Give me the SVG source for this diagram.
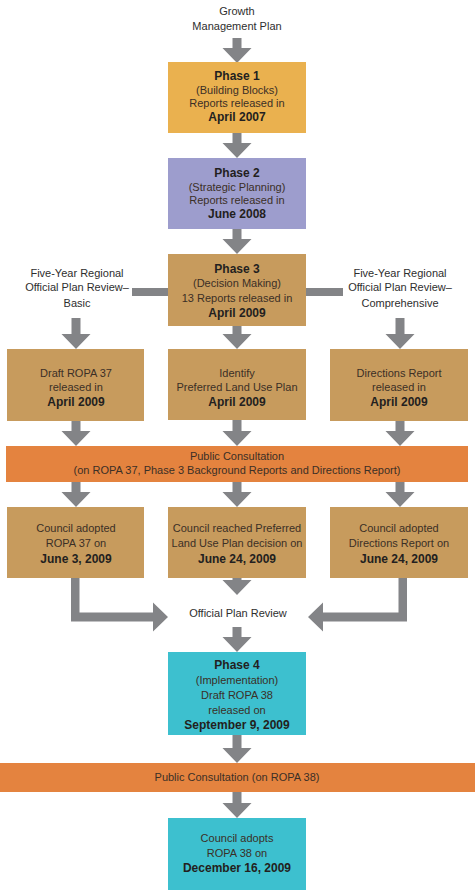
<svg xmlns="http://www.w3.org/2000/svg" width="475" height="890" viewBox="0 0 475 890">
<style>
text{font-family:"Liberation Sans",Arial,sans-serif;font-size:11px;fill:#3b2f26;text-anchor:middle}
.b{font-weight:bold;font-size:12px;fill:#231f20}
.p1{fill:#EAB14F}
.p2{fill:#9D9DCD}
.tan{fill:#C79B5D}
.org{fill:#E4833F}
.teal{fill:#3DC0CF}
.arr{fill:#838487}
.lbl{fill:#2e2e2e}
</style>
<rect width="475" height="890" fill="#ffffff"/>
<g id="connectors">
<path class="arr" d="M232.5 38H241.5V48H251.5L237 63L222.5 48H232.5Z"/>
<path class="arr" d="M232.5 133H241.5V143H251.5L237 158L222.5 143H232.5Z"/>
<path class="arr" d="M232.5 229H241.5V239H251.5L237 254L222.5 239H232.5Z"/>
<rect class="arr" x="132" y="288" width="36" height="8"/>
<rect class="arr" x="306" y="288" width="37" height="8"/>
<path class="arr" d="M71.5 318H80.5V334H90.5L76 349L61.5 334H71.5Z"/>
<path class="arr" d="M232.5 326H241.5V334H251.5L237 349L222.5 334H232.5Z"/>
<path class="arr" d="M395.5 318H404.5V334H414.5L400 349L385.5 334H395.5Z"/>
<path class="arr" d="M71.5 421H80.5V431H90.5L76 446L61.5 431H71.5Z"/>
<path class="arr" d="M232.5 420H241.5V431H251.5L237 446L222.5 431H232.5Z"/>
<path class="arr" d="M395.5 421H404.5V431H414.5L400 446L385.5 431H395.5Z"/>
<path class="arr" d="M71.5 482H80.5V492H90.5L76 507L61.5 492H71.5Z"/>
<path class="arr" d="M232.5 482H241.5V492H251.5L237 507L222.5 492H232.5Z"/>
<path class="arr" d="M395.5 482H404.5V492H414.5L400 507L385.5 492H395.5Z"/>
<path class="arr" d="M232.5 578H241.5V580H251.5L237 595L222.5 580H232.5Z"/>
<path class="arr" d="M232.5 627H241.5V637H251.5L237 652L222.5 637H232.5Z"/>
<path class="arr" d="M232.5 735H241.5V748H251.5L237 763L222.5 748H232.5Z"/>
<path class="arr" d="M232.5 792H241.5V803H251.5L237 818L222.5 803H232.5Z"/>
<path class="arr" d="M71 578H79.5V612.5H153V602.5L168 617L153 631.5V621.5H71Z"/>
<path class="arr" d="M407 578V621.5H323V631.5L308 617L323 602.5V612.5H398.5V578Z"/>
</g>
<g id="growth">
<text class="lbl" x="237" y="15">Growth</text>
<text class="lbl" x="237" y="30">Management Plan</text>
</g>
<g id="phase1">
<rect class="p1" x="168" y="62" width="138" height="71"/>
<text class="b" x="237" y="80">Phase 1</text>
<text x="237" y="94">(Building Blocks)</text>
<text x="237" y="107">Reports released in</text>
<text class="b" x="237" y="121">April 2007</text>
</g>
<g id="phase2">
<rect class="p2" x="168" y="158" width="138" height="71"/>
<text class="b" x="237" y="177">Phase 2</text>
<text x="237" y="191">(Strategic Planning)</text>
<text x="237" y="204">Reports released in</text>
<text class="b" x="237" y="218">June 2008</text>
</g>
<g id="phase3">
<rect class="tan" x="168" y="254" width="138" height="72"/>
<text class="b" x="237" y="273">Phase 3</text>
<text x="237" y="287">(Decision Making)</text>
<text x="237" y="302">13 Reports released in</text>
<text class="b" x="237" y="317">April 2009</text>
</g>
<g id="review-basic">
<text class="lbl" x="77" y="277">Five-Year Regional</text>
<text class="lbl" x="77" y="291">Official Plan Review–</text>
<text class="lbl" x="77" y="307">Basic</text>
</g>
<g id="review-comprehensive">
<text class="lbl" x="400" y="277">Five-Year Regional</text>
<text class="lbl" x="400" y="291">Official Plan Review–</text>
<text class="lbl" x="400" y="307">Comprehensive</text>
</g>
<g id="ropa37-draft">
<rect class="tan" x="7" y="349" width="137" height="72"/>
<text x="76" y="377">Draft ROPA 37</text>
<text x="76" y="391">released in</text>
<text class="b" x="76" y="406">April 2009</text>
</g>
<g id="identify-plan">
<rect class="tan" x="168" y="349" width="138" height="71"/>
<text x="237" y="377">Identify</text>
<text x="237" y="391">Preferred Land Use Plan</text>
<text class="b" x="237" y="406">April 2009</text>
</g>
<g id="directions-report">
<rect class="tan" x="330" y="349" width="138" height="72"/>
<text x="399" y="377">Directions Report</text>
<text x="399" y="391">released in</text>
<text class="b" x="399" y="406">April 2009</text>
</g>
<g id="public-consultation-1">
<rect class="org" x="6" y="446" width="462" height="36"/>
<text x="237" y="460">Public Consultation</text>
<text x="237" y="474">(on ROPA 37, Phase 3 Background Reports and Directions Report)</text>
</g>
<g id="council-ropa37">
<rect class="tan" x="7" y="507" width="137" height="71"/>
<text x="76" y="532">Council adopted</text>
<text x="76" y="547">ROPA 37 on</text>
<text class="b" x="76" y="563">June 3, 2009</text>
</g>
<g id="council-land-use">
<rect class="tan" x="168" y="507" width="138" height="71"/>
<text x="237" y="532">Council reached Preferred</text>
<text x="237" y="547">Land Use Plan decision on</text>
<text class="b" x="237" y="563">June 24, 2009</text>
</g>
<g id="council-directions">
<rect class="tan" x="330" y="507" width="138" height="71"/>
<text x="399" y="532">Council adopted</text>
<text x="399" y="547">Directions Report on</text>
<text class="b" x="399" y="563">June 24, 2009</text>
</g>
<g id="official-plan-review">
<text class="lbl" x="238" y="617">Official Plan Review</text>
</g>
<g id="phase4">
<rect class="teal" x="168" y="652" width="138" height="83"/>
<text class="b" x="237" y="669">Phase 4</text>
<text x="237" y="684">(Implementation)</text>
<text x="237" y="699">Draft ROPA 38</text>
<text x="237" y="714">released on</text>
<text class="b" x="237" y="729">September 9, 2009</text>
</g>
<g id="public-consultation-2">
<rect class="org" x="0" y="763" width="475" height="29"/>
<text x="237" y="781">Public Consultation (on ROPA 38)</text>
</g>
<g id="council-ropa38">
<rect class="teal" x="168" y="818" width="138" height="72"/>
<text x="237" y="842">Council adopts</text>
<text x="237" y="857">ROPA 38 on</text>
<text class="b" x="237" y="872">December 16, 2009</text>
</g>
</svg>
